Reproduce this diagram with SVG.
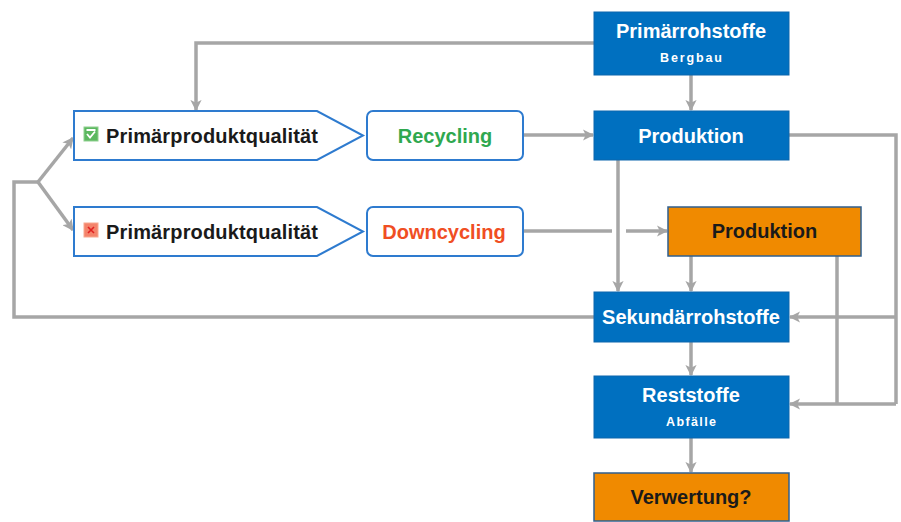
<svg xmlns="http://www.w3.org/2000/svg" width="901" height="522" viewBox="0 0 901 522">
<defs>
<marker id="arr" viewBox="0 0 10 10" refX="9" refY="5" markerWidth="3.2" markerHeight="3.2" orient="auto" markerUnits="strokeWidth">
<path d="M0,0 L10,5 L0,10 L2.5,5 Z" fill="#a6a6a6"/>
</marker>
<style>
.c{fill:none;stroke:#a6a6a6;stroke-width:3.5}
.ca{fill:none;stroke:#a6a6a6;stroke-width:3.5;marker-end:url(#arr)}
.blue{fill:#0070c0;stroke:#0d66ad;stroke-width:1}
.orange{fill:#f08a00;stroke:#2f5f8f;stroke-width:1.5}
.pent{fill:#fff;stroke:#2e7bcf;stroke-width:2}
.t{font-family:"Liberation Sans",Arial,sans-serif;font-weight:bold;font-size:20px;text-anchor:middle}
.w{fill:#fff}
.k{fill:#1a1a1a}
.s{font-family:"Liberation Sans",Arial,sans-serif;font-weight:bold;font-size:12.5px;text-anchor:middle;fill:#fff}
</style>
</defs>
<g id="connectors">
<path class="ca" d="M594,43 H196 V110"/>
<path class="ca" d="M691,75 V110"/>
<path class="ca" d="M523,135 H593"/>
<path class="c" d="M523,231 H612"/>
<path class="ca" d="M626,231 H667"/>
<path class="ca" d="M618,160 V291"/>
<path class="ca" d="M691,256 V291"/>
<path class="c" d="M789,135 H896 V404"/>
<path class="ca" d="M896,317 H790"/>
<path class="ca" d="M896,404 H790"/>
<path class="c" d="M837,256 V404"/>
<path class="c" d="M594,317 H14 V182 H38"/>
<path class="ca" d="M38,182 L73,138"/>
<path class="ca" d="M38,182 L73,230"/>
<path class="ca" d="M691,342 V375"/>
<path class="ca" d="M691,438 V472"/>
</g>
<g id="primaerrohstoffe">
<rect class="blue" x="594" y="12" width="195" height="63"/>
<text class="t w" x="691" y="38">Primärrohstoffe</text>
<text class="s" x="691" y="62" textLength="62" lengthAdjust="spacing">Bergbau</text>
</g>
<g id="produktion">
<rect class="blue" x="594" y="111" width="195" height="49"/>
<text class="t w" x="691" y="142.5">Produktion</text>
</g>
<g id="produktion2">
<rect class="orange" x="668" y="207" width="193" height="49"/>
<text class="t k" x="764.5" y="238">Produktion</text>
</g>
<g id="sekundaerrohstoffe">
<rect class="blue" x="594" y="292" width="195" height="50"/>
<text class="t w" x="691" y="324">Sekundärrohstoffe</text>
</g>
<g id="reststoffe">
<rect class="blue" x="594" y="376" width="195" height="62"/>
<text class="t w" x="691" y="402">Reststoffe</text>
<text class="s" x="691" y="426" textLength="50" lengthAdjust="spacing">Abfälle</text>
</g>
<g id="verwertung">
<rect class="orange" x="594" y="473" width="195" height="48"/>
<text class="t k" x="691" y="504">Verwertung?</text>
</g>
<g id="qualitaet1">
<path class="pent" d="M74,111 H317 L363,135.5 L317,160 H74 Z"/>
<rect x="84" y="127" width="14" height="14" fill="#5cb860" stroke="#8fd08f" stroke-width="1"/>
<path d="M86.5,130 H95.5 M87,134 L90,137.5 L95,131.5" fill="none" stroke="#fff" stroke-width="1.8"/>
<text class="t k" x="106" y="142.5" style="text-anchor:start" textLength="212">Primärproduktqualität</text>
</g>
<g id="qualitaet2">
<path class="pent" d="M74,207 H317 L363,231.5 L317,256 H74 Z"/>
<rect x="84" y="223" width="14" height="14" fill="#f4836b" stroke="#f7a890" stroke-width="1"/>
<path d="M88,227 L94,233 M94,227 L88,233" stroke="#e02020" stroke-width="1.6"/>
<text class="t k" x="106" y="238.5" style="text-anchor:start" textLength="212">Primärproduktqualität</text>
</g>
<g id="recycling">
<rect class="pent" x="367" y="111" width="156" height="49" rx="6"/>
<text class="t" x="445" y="142.5" fill="#2fa84f">Recycling</text>
</g>
<g id="downcycling">
<rect class="pent" x="367" y="207" width="156" height="49" rx="6"/>
<text class="t" x="444" y="238.5" fill="#f04e23">Downcycling</text>
</g>
</svg>
